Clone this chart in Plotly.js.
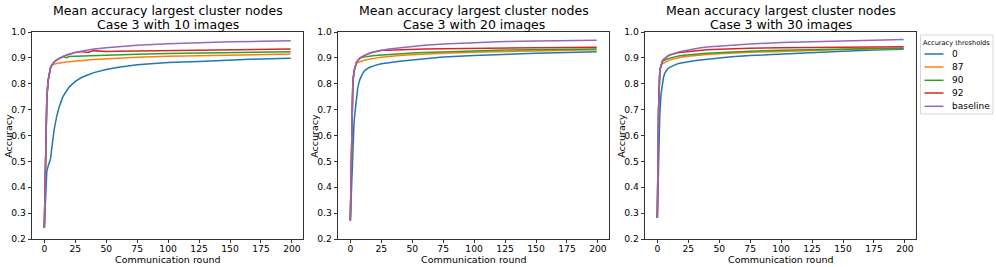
<!DOCTYPE html>
<html>
<head>
<meta charset="utf-8">
<script src="https://cdn.plot.ly/plotly-3.0.1.min.js"></script>
<style>html,body{margin:0;padding:0;background:#fff;}#chart{width:996px;height:267px;}</style>
</head>
<body>
<div id="chart"></div>
<script>
// ---------------- data ----------------
const rounds = [0,1,2,3,4,5,6,7,8,10,12,15,18,20,25,30,35,40,50,60,75,100,125,150,175,199];
const thresholds = ["0","87","90","92","baseline"];
const colors = ["#1f77b4","#ff7f0e","#2ca02c","#d62728","#9467bd"];
const imageCounts = [10,20,30];

// Case 3 with 10 images
const acc10_t0  = [0.243,0.40,0.462,0.480,0.495,0.510,0.550,0.595,0.625,0.674,0.710,0.750,0.775,0.787,0.809,0.824,0.834,0.843,0.855,0.864,0.873,0.882,0.886,0.892,0.896,0.899];
const acc10_t87 = [0.243,0.52,0.740,0.810,0.845,0.862,0.870,0.875,0.876,0.878,0.880,0.882,0.884,0.885,0.888,0.890,0.892,0.894,0.897,0.899,0.902,0.906,0.909,0.911,0.913,0.915];
const acc10_t90 = [0.243,0.52,0.740,0.810,0.845,0.862,0.872,0.879,0.884,0.892,0.898,0.905,0.901,0.905,0.906,0.907,0.908,0.909,0.910,0.912,0.914,0.917,0.919,0.921,0.923,0.924];
const acc10_t92 = [0.243,0.52,0.740,0.810,0.845,0.862,0.872,0.879,0.884,0.892,0.898,0.905,0.911,0.914,0.921,0.925,0.921,0.928,0.925,0.926,0.927,0.929,0.931,0.932,0.933,0.934];
const acc10_base= [0.243,0.52,0.740,0.810,0.845,0.862,0.872,0.879,0.884,0.892,0.898,0.905,0.911,0.914,0.921,0.926,0.930,0.934,0.939,0.944,0.949,0.955,0.959,0.962,0.964,0.966];

// Case 3 with 20 images
const acc20_t0  = [0.271,0.42,0.550,0.650,0.700,0.752,0.783,0.805,0.820,0.840,0.853,0.862,0.868,0.871,0.877,0.881,0.884,0.887,0.892,0.897,0.903,0.909,0.914,0.918,0.921,0.924];
const acc20_t87 = [0.271,0.62,0.800,0.850,0.870,0.879,0.882,0.884,0.886,0.889,0.892,0.895,0.898,0.899,0.902,0.905,0.907,0.909,0.912,0.915,0.918,0.922,0.925,0.928,0.930,0.931];
const acc20_t90 = [0.271,0.62,0.800,0.850,0.870,0.883,0.890,0.896,0.899,0.902,0.904,0.906,0.908,0.909,0.911,0.913,0.915,0.916,0.919,0.921,0.924,0.927,0.930,0.932,0.933,0.934];
const acc20_t92 = [0.271,0.62,0.800,0.850,0.870,0.883,0.890,0.896,0.900,0.906,0.911,0.917,0.922,0.924,0.929,0.929,0.930,0.931,0.933,0.934,0.935,0.937,0.938,0.939,0.940,0.941];
const acc20_base= [0.271,0.62,0.800,0.850,0.870,0.883,0.890,0.896,0.900,0.906,0.911,0.917,0.922,0.924,0.929,0.933,0.936,0.939,0.945,0.949,0.954,0.959,0.963,0.965,0.967,0.968];

// Case 3 with 30 images
const acc30_t0  = [0.281,0.52,0.680,0.760,0.800,0.825,0.840,0.850,0.856,0.863,0.869,0.875,0.879,0.881,0.885,0.889,0.892,0.895,0.899,0.904,0.909,0.915,0.921,0.926,0.930,0.933];
const acc30_t87 = [0.281,0.70,0.850,0.873,0.877,0.880,0.883,0.886,0.888,0.892,0.895,0.899,0.902,0.903,0.906,0.909,0.911,0.913,0.916,0.919,0.922,0.925,0.929,0.932,0.934,0.936];
const acc30_t90 = [0.281,0.70,0.850,0.875,0.886,0.889,0.892,0.894,0.896,0.899,0.902,0.905,0.908,0.909,0.912,0.914,0.916,0.918,0.921,0.923,0.926,0.929,0.932,0.934,0.936,0.937];
const acc30_t92 = [0.281,0.70,0.850,0.875,0.887,0.894,0.899,0.903,0.906,0.911,0.915,0.918,0.921,0.922,0.925,0.928,0.930,0.931,0.933,0.935,0.937,0.939,0.940,0.941,0.942,0.943];
const acc30_base= [0.281,0.70,0.850,0.875,0.888,0.894,0.899,0.903,0.906,0.911,0.915,0.920,0.924,0.926,0.931,0.935,0.939,0.942,0.946,0.950,0.954,0.959,0.962,0.965,0.968,0.971];

const xTicks = [0,25,50,75,100,125,150,175,200];
const yTicks = [0.2,0.3,0.4,0.5,0.6,0.7,0.8,0.9,1.0];

const panels = [
  [acc10_t0, acc10_t87, acc10_t90, acc10_t92, acc10_base],
  [acc20_t0, acc20_t87, acc20_t90, acc20_t92, acc20_base],
  [acc30_t0, acc30_t87, acc30_t90, acc30_t92, acc30_base]
];

// ---------------- layout helpers ----------------
const W = 996, H = 267;
const px = v => v / W;
const py = v => 1 - v / H;
const FONT = "DejaVu Sans, sans-serif";
const panelPx = [[32,303],[338,609],[645,916]];
const plotTop = 32, plotBottom = 239;

const traces = [];
panels.forEach((series, p) => {
  const sfx = p === 0 ? "" : String(p + 1);
  series.forEach((vals, s) => {
    traces.push({
      type: "scatter", mode: "lines",
      x: rounds, y: vals,
      xaxis: "x" + sfx, yaxis: "y" + sfx,
      name: thresholds[s],
      line: {color: colors[s], width: 1.5},
      showlegend: false, hoverinfo: "skip"
    });
  });
});

const layout = {
  width: W, height: H,
  margin: {l: 0, r: 0, t: 0, b: 0},
  paper_bgcolor: "#fff", plot_bgcolor: "#fff",
  showlegend: false,
  font: {family: FONT, size: 9.2, color: "#000"},
  annotations: [], shapes: []
};

panelPx.forEach((d, p) => {
  const sfx = p === 0 ? "" : String(p + 1);
  layout["xaxis" + sfx] = {
    domain: [px(d[0]), px(d[1])], anchor: "y" + sfx,
    range: [-9.95, 208.95], tickvals: xTicks, ticktext: xTicks.map(String),
    ticks: "outside", ticklen: 3.2, tickwidth: 0.8, tickcolor: "#000",
    ticklabelstandoff: -2,
    showline: true, mirror: true, linecolor: "#000", linewidth: 0.8,
    showgrid: false, zeroline: false,
    tickfont: {family: FONT, size: 9.2, color: "#000"}
  };
  layout["yaxis" + sfx] = {
    domain: [py(plotBottom), py(plotTop)], anchor: "x" + sfx,
    range: [0.2, 1.0], tickvals: yTicks, ticktext: yTicks.map(v => v.toFixed(1)),
    ticks: "outside", ticklen: 3.5, tickwidth: 0.8, tickcolor: "#000",
    showline: true, mirror: true, linecolor: "#000", linewidth: 0.8,
    showgrid: false, zeroline: false,
    tickfont: {family: FONT, size: 9.2, color: "#000"}
  };
  const cx = (d[0] + d[1]) / 2;
  layout.annotations.push(
    {xref: "paper", yref: "paper", x: px(cx), y: py(10.5), xanchor: "center", yanchor: "middle",
     text: "Mean accuracy largest cluster nodes", showarrow: false, font: {family: FONT, size: 12.5, color: "#000"}},
    {xref: "paper", yref: "paper", x: px(cx), y: py(24.5), xanchor: "center", yanchor: "middle",
     text: "Case 3 with " + imageCounts[p] + " images", showarrow: false, font: {family: FONT, size: 12.5, color: "#000"}},
    {xref: "paper", yref: "paper", x: px(cx), y: py(259.5), xanchor: "center", yanchor: "middle", borderpad: 0,
     text: "Communication round", showarrow: false, font: {family: FONT, size: 9.5, color: "#000"}},
    {xref: "paper", yref: "paper", x: px(d[0] - 23.7), y: py((plotTop + plotBottom) / 2), xanchor: "center", yanchor: "middle",
     text: "Accuracy", textangle: -90, showarrow: false, font: {family: FONT, size: 9.5, color: "#000"}}
  );
});

// legend (drawn as decoration)
const leg = {x0: 920.5, x1: 993, y0: 35, y1: 114};
layout.shapes.push({type: "rect", xref: "paper", yref: "paper",
  x0: px(leg.x0), x1: px(leg.x1), y0: py(leg.y1), y1: py(leg.y0),
  line: {color: "#cccccc", width: 0.8}, fillcolor: "rgba(255,255,255,0.8)"});
layout.annotations.push({xref: "paper", yref: "paper", x: px(956), y: py(43), xanchor: "center", yanchor: "middle",
  text: "Accuracy thresholds", showarrow: false, font: {family: FONT, size: 6.6, color: "#000"}});
const entryY = [54, 67, 80.3, 93, 106.3];
thresholds.forEach((t, i) => {
  layout.shapes.push({type: "line", xref: "paper", yref: "paper",
    x0: px(924.5), x1: px(943.5), y0: py(entryY[i]), y1: py(entryY[i]),
    line: {color: colors[i], width: 1.5}});
  layout.annotations.push({xref: "paper", yref: "paper", x: px(950), y: py(entryY[i]), xanchor: "left", yanchor: "middle",
    text: t, showarrow: false, font: {family: FONT, size: 9, color: "#000"}});
});

Plotly.newPlot("chart", traces, layout, {displayModeBar: false, staticPlot: true});
</script>
</body>
</html>
